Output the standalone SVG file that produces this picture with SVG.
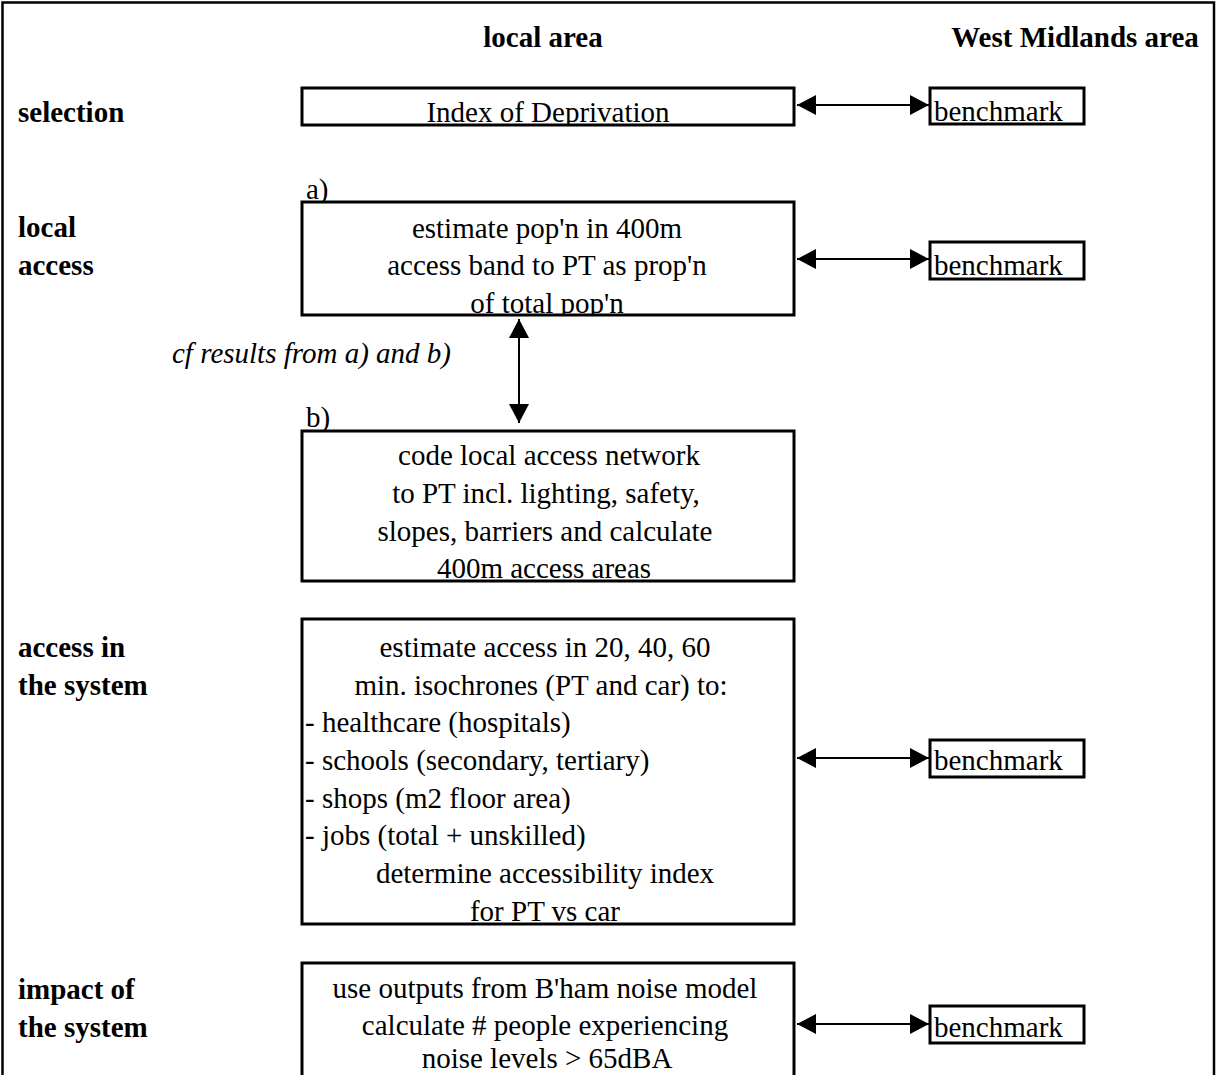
<svg xmlns="http://www.w3.org/2000/svg" width="1217" height="1075" viewBox="0 0 1217 1075">
<defs>
<style>
text{font-family:"Liberation Serif","Times New Roman",serif;font-size:29px;fill:#000}
.b{font-weight:bold}
.i{font-style:italic}
.c{text-anchor:middle}
.box{fill:#fff;stroke:#000;stroke-width:3}
.con{stroke:#000;stroke-width:2;fill:none;marker-start:url(#ah);marker-end:url(#ah)}
</style>
<marker id="ah" markerUnits="userSpaceOnUse" markerWidth="19" markerHeight="20" refX="19" refY="10" orient="auto-start-reverse" viewBox="0 0 19 20">
<path d="M0,0 L19,10 L0,20 Z" fill="#000"/>
</marker>
<clipPath id="clipSel"><rect x="302" y="88" width="492" height="36"/></clipPath>
<clipPath id="clipA"><rect x="302" y="202" width="492" height="112"/></clipPath>
</defs>
<rect width="1217" height="1075" fill="#fff"/>
<path d="M2.5,1075 V2.5 H1214 V1075" fill="none" stroke="#000" stroke-width="2.5"/>

<g id="headers">
<text class="b c" x="543" y="47">local area</text>
<text class="b c" x="1075" y="47">West Midlands area</text>
</g>

<g id="row-labels">
<text class="b" x="18" y="122">selection</text>
<text class="b" x="18" y="237">local</text>
<text class="b" x="18" y="275">access</text>
<text class="b" x="18" y="657">access in</text>
<text class="b" x="18" y="695">the system</text>
<text class="b" x="18" y="999">impact of</text>
<text class="b" x="18" y="1037">the system</text>
</g>

<g id="selection">
<rect class="box" x="302" y="88" width="492" height="37"/>
<text class="c" x="548" y="122" clip-path="url(#clipSel)">Index of Deprivation</text>
</g>
<g id="benchmark1">
<rect class="box" x="930" y="88" width="154" height="36"/>
<text x="934" y="121">benchmark</text>
</g>

<g id="local-access-a">
<text x="306" y="199">a)</text>
<rect class="box" x="302" y="202" width="492" height="113"/>
<g clip-path="url(#clipA)">
<text class="c" x="547" y="238">estimate pop'n in 400m</text>
<text class="c" x="547" y="275">access band to PT as prop'n</text>
<text class="c" x="547" y="313">of total pop'n</text>
</g>
</g>
<g id="benchmark2">
<rect class="box" x="930" y="242" width="154" height="37"/>
<text x="934" y="275">benchmark</text>
</g>

<g id="note">
<text class="i" x="172" y="363">cf results from a) and b)</text>
</g>

<g id="local-access-b">
<text x="306" y="427">b)</text>
<rect class="box" x="302" y="431" width="492" height="150"/>
<text class="c" x="549" y="465">code local access network</text>
<text class="c" x="546" y="503">to PT incl. lighting, safety,</text>
<text class="c" x="545" y="541">slopes, barriers and calculate</text>
<text class="c" x="544" y="578">400m access areas</text>
</g>

<g id="access-system">
<rect class="box" x="302" y="619" width="492" height="305"/>
<text class="c" x="545" y="657">estimate access in 20, 40, 60</text>
<text class="c" x="541" y="695">min. isochrones (PT and car) to:</text>
<text x="305" y="732">- healthcare (hospitals)</text>
<text x="305" y="770">- schools (secondary, tertiary)</text>
<text x="305" y="808">- shops (m2 floor area)</text>
<text x="305" y="845">- jobs (total + unskilled)</text>
<text class="c" x="545" y="883">determine accessibility index</text>
<text class="c" x="545" y="921">for PT vs car</text>
</g>
<g id="benchmark3">
<rect class="box" x="930" y="740" width="154" height="37"/>
<text x="934" y="770">benchmark</text>
</g>

<g id="impact-system">
<rect class="box" x="302" y="963" width="492" height="130"/>
<text class="c" x="545" y="998">use outputs from B'ham noise model</text>
<text class="c" x="545" y="1035">calculate # people experiencing</text>
<text class="c" x="547" y="1068">noise levels &gt; 65dBA</text>
</g>
<g id="benchmark4">
<rect class="box" x="930" y="1006" width="154" height="37"/>
<text x="934" y="1037">benchmark</text>
</g>

<g id="connectors">
<line class="con" x1="797" y1="105" x2="929" y2="105"/>
<line class="con" x1="797" y1="259" x2="929" y2="259"/>
<line class="con" x1="797" y1="758" x2="929" y2="758"/>
<line class="con" x1="797" y1="1024" x2="929" y2="1024"/>
<line class="con" x1="519" y1="319" x2="519" y2="423"/>
</g>
</svg>
